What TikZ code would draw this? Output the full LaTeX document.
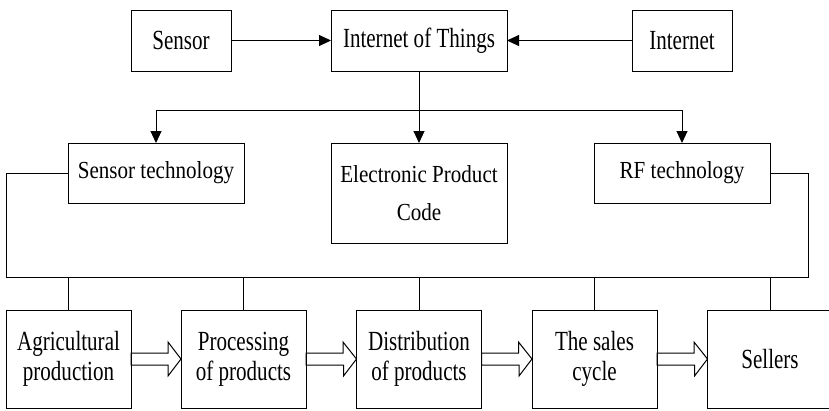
\documentclass[tikz,border=0pt]{standalone}
\usepackage{fontspec}
\newfontfamily\bigfont[FakeStretch=0.76]{Liberation Serif}
\newfontfamily\midfont[FakeStretch=0.86]{Liberation Serif}
\usetikzlibrary{arrows.meta,calc}

\begin{document}
\begin{tikzpicture}
        [
            x = 1pt, y = -1pt,
            line width        = 1pt,
            boxed/.style      = {shape=rectangle, draw, align=center, inner sep=0pt, outer sep=0pt},
            topbox/.style     = {boxed, minimum height=61pt, font=\bigfont\fontsize{27.7}{30}\selectfont},
            techbox/.style    = {boxed, minimum width=176pt, font=\midfont\fontsize{24.5}{38}\selectfont},
            stagebox/.style   = {boxed, minimum width=125pt, minimum height=98pt, font=\bigfont\fontsize{27.7}{30}\selectfont},
            link/.style       = {draw, -{Triangle[length=12pt, width=11pt]}},
            hollow/.style     = {draw, line join=miter},
            ]
            \useasboundingbox (0,0) rectangle (829,410);
            \node [topbox, minimum width=100pt] (sensor)   at (181,40.5) {Sensor};
            \node [topbox, minimum width=176pt] (iot)      at (419,40.5) {Internet of Things};
            \node [topbox, minimum width=100pt] (internet) at (682,40.5) {Internet};
            \node [techbox, minimum height=60pt]  (senstech) at (156,173) {Sensor technology};
            \node [techbox, minimum height=100pt] (epc)      at (419,193) {Electronic Product\\Code};
            \node [techbox, minimum height=60pt]  (rftech)   at (682,173) {RF technology};
            \node [stagebox] (agri)  at (68.5,359)  {Agricultural\\production};
            \node [stagebox] (proc)  at (243.5,359) {Processing\\of products};
            \node [stagebox] (dist)  at (419,359)   {Distribution\\of products};
            \node [stagebox] (sales) at (594.5,359) {The sales\\cycle};
            \node [stagebox] (sell)  at (770,359)   {Sellers};
            \coordinate (split)    at (419,110);
            \coordinate (busleft)  at (6,277);
            \coordinate (busright) at (808,277);
            \draw [link] (sensor) -- (iot);
            \draw [link] (internet) -- (iot);
            \draw [link] (iot) -- (epc);
            \draw [link] (split) -| (senstech);
            \draw [link] (split) -| (rftech);
            \draw (senstech.west) -| (busleft) -- (busright) |- (rftech.east);
            \foreach \n in {agri, proc, dist, sales, sell}
                \draw (\n.north) -- (\n.north |- busleft);
            \foreach \a/\b in {agri/proc, proc/dist, dist/sales, sales/sell}
                \draw [hollow] ($(\a.east)+(0,-6)$) -- ++(37,0) -- ++(0,-11) -- (\b.west)
                    -- ++(-13,17) -- ++(0,-11) -- ($(\a.east)+(0,6)$) -- cycle;
        \end{tikzpicture}
\end{document}
